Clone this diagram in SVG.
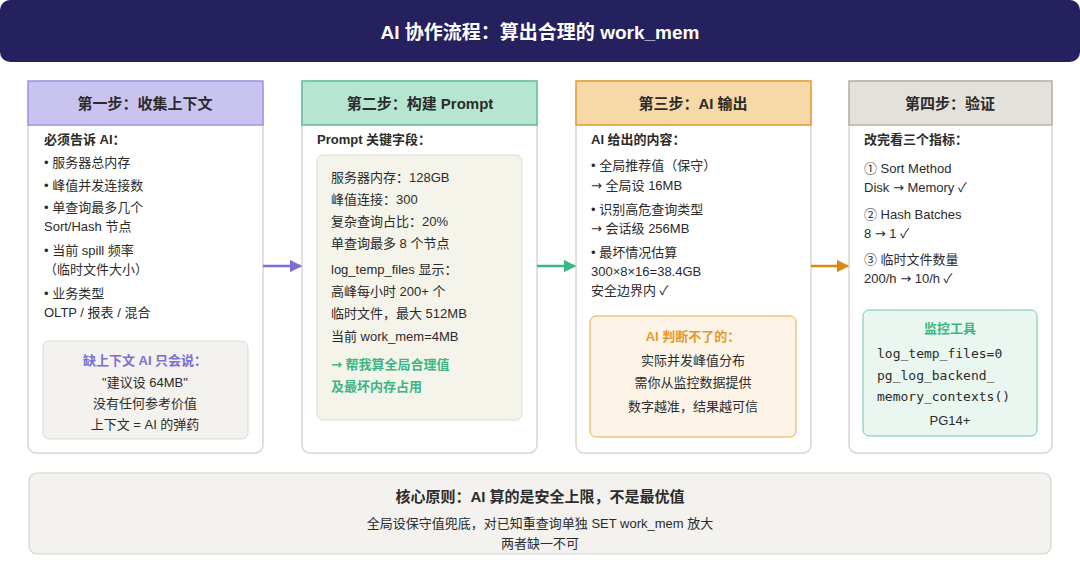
<svg xmlns="http://www.w3.org/2000/svg" width="1080" height="576" viewBox="0 0 1080 576">
<defs>
<style>
text{font-family:"Liberation Sans","Noto Sans CJK SC",sans-serif;fill:#2b2b2b;font-size:13px}
.b{font-weight:bold}
.t{font-size:15px;font-weight:bold;text-anchor:middle}
.c{text-anchor:middle}
.m{font-family:"DejaVu Sans Mono","Liberation Mono",monospace;font-size:13px}
.ar{font-family:"DejaVu Sans",sans-serif}
.card{fill:#fff;stroke:#d8d6d0;stroke-width:1.5}
</style>
<marker id="ap" viewBox="0 0 10 10" refX="9" refY="5" markerWidth="5" markerHeight="5" orient="auto"><path d="M0,0L10,5L0,10z" fill="#7b6fd6"/></marker>
<marker id="ag" viewBox="0 0 10 10" refX="9" refY="5" markerWidth="5" markerHeight="5" orient="auto"><path d="M0,0L10,5L0,10z" fill="#3db585"/></marker>
<marker id="ao" viewBox="0 0 10 10" refX="9" refY="5" markerWidth="5" markerHeight="5" orient="auto"><path d="M0,0L10,5L0,10z" fill="#d98a12"/></marker>
</defs>
<rect width="1080" height="576" fill="#fff"/>
<g id="header">
<rect x="0" y="0" width="1080" height="62" rx="10" fill="#25205e"/>
<text x="540" y="39" class="c b" style="fill:#fff;font-size:19px">AI 协作流程：算出合理的 work_mem</text>
</g>
<g id="step1">
<rect class="card" x="28" y="81" width="235" height="372" rx="8"/>
<rect x="28" y="81" width="235" height="44" fill="#c9c3f0" stroke="#9f94e6" stroke-width="1.5"/>
<text x="145" y="109" class="t">第一步：收集上下文</text>
<text x="44" y="144" class="b">必须告诉 AI：</text>
<text x="44" y="167">• 服务器总内存</text>
<text x="44" y="190">• 峰值并发连接数</text>
<text x="44" y="212">• 单查询最多几个</text>
<text x="44" y="231">Sort/Hash 节点</text>
<text x="44" y="255">• 当前 spill 频率</text>
<text x="44" y="274">（临时文件大小）</text>
<text x="44" y="298">• 业务类型</text>
<text x="44" y="317">OLTP / 报表 / 混合</text>
<rect x="43" y="341" width="205" height="98" rx="6" fill="#f3f2ee" stroke="#dcdad4"/>
<text x="145" y="365" class="c b" style="fill:#7b6fd6">缺上下文 AI 只会说：</text>
<text x="145" y="387" class="c">"建议设 64MB"</text>
<text x="145" y="408" class="c">没有任何参考价值</text>
<text x="145" y="429" class="c">上下文 = AI 的弹药</text>
</g>
<g id="step2">
<rect class="card" x="302" y="81" width="235" height="372" rx="8"/>
<rect x="302" y="81" width="235" height="44" fill="#b6e6d2" stroke="#5cbf95" stroke-width="1.5"/>
<text x="420" y="109" class="t">第二步：构建 Prompt</text>
<text x="317" y="144" class="b">Prompt 关键字段：</text>
<rect x="317" y="155" width="205" height="265" rx="6" fill="#f5f4ea" stroke="#dcdad4"/>
<text x="331" y="182">服务器内存：128GB</text>
<text x="331" y="204">峰值连接：300</text>
<text x="331" y="226">复杂查询占比：20%</text>
<text x="331" y="248">单查询最多 8 个节点</text>
<text x="331" y="274">log_temp_files 显示：</text>
<text x="331" y="296">高峰每小时 200+ 个</text>
<text x="331" y="318">临时文件，最大 512MB</text>
<text x="331" y="341">当前 work_mem=4MB</text>
<text x="331" y="369" class="b" style="fill:#3db585"><tspan class="ar">→</tspan> 帮我算全局合理值</text>
<text x="331" y="391" class="b" style="fill:#3db585">及最坏内存占用</text>
</g>
<g id="step3">
<rect class="card" x="576" y="81" width="235" height="372" rx="8"/>
<rect x="576" y="81" width="235" height="44" fill="#f6d9a6" stroke="#e39a2c" stroke-width="1.5"/>
<text x="693" y="109" class="t">第三步：AI 输出</text>
<text x="591" y="144" class="b">AI 给出的内容：</text>
<text x="591" y="170">• 全局推荐值（保守）</text>
<text x="591" y="190"><tspan class="ar">→</tspan> 全局设 16MB</text>
<text x="591" y="214">• 识别高危查询类型</text>
<text x="591" y="233"><tspan class="ar">→</tspan> 会话级 256MB</text>
<text x="591" y="257">• 最坏情况估算</text>
<text x="591" y="276">300×8×16=38.4GB</text>
<text x="591" y="295">安全边界内 ✓</text>
<rect x="590" y="316" width="206" height="121" rx="6" fill="#fdf3e7" stroke="#e9a94f"/>
<text x="693" y="341" class="c b" style="fill:#e39a2c">AI 判断不了的：</text>
<text x="693" y="365" class="c">实际并发峰值分布</text>
<text x="693" y="387" class="c">需你从监控数据提供</text>
<text x="693" y="411" class="c">数字越准，结果越可信</text>
</g>
<g id="step4">
<rect class="card" x="849" y="81" width="203" height="372" rx="8"/>
<rect x="849" y="81" width="203" height="44" fill="#e4e1db" stroke="#b5b0a6" stroke-width="1.5"/>
<text x="950" y="109" class="t">第四步：验证</text>
<text x="864" y="144" class="b">改完看三个指标：</text>
<text x="864" y="173">① Sort Method</text>
<text x="864" y="192">Disk <tspan class="ar">→</tspan> Memory ✓</text>
<text x="864" y="219">② Hash Batches</text>
<text x="864" y="238">8 <tspan class="ar">→</tspan> 1 ✓</text>
<text x="864" y="264">③ 临时文件数量</text>
<text x="864" y="283">200/h <tspan class="ar">→</tspan> 10/h ✓</text>
<rect x="863" y="310" width="174" height="126" rx="6" fill="#e9f7f0" stroke="#72c9a3"/>
<text x="950" y="333" class="c b" style="fill:#3db585">监控工具</text>
<text x="877" y="358" class="m">log_temp_files=0</text>
<text x="877" y="380" class="m">pg_log_backend_</text>
<text x="877" y="401" class="m">memory_contexts()</text>
<text x="950" y="425" class="c">PG14+</text>
</g>
<g id="connectors">
<line x1="263" y1="266" x2="301" y2="266" stroke="#7b6fd6" stroke-width="2.5" marker-end="url(#ap)"/>
<line x1="537" y1="266" x2="575" y2="266" stroke="#3db585" stroke-width="2.5" marker-end="url(#ag)"/>
<line x1="811" y1="266" x2="848" y2="266" stroke="#d98a12" stroke-width="2.5" marker-end="url(#ao)"/>
</g>
<g id="summary">
<rect x="29" y="473" width="1022" height="81" rx="8" fill="#f3f2ee" stroke="#d4d2cc" stroke-width="1.2"/>
<text x="540" y="502" class="t">核心原则：AI 算的是安全上限，不是最优值</text>
<text x="540" y="528" class="c">全局设保守值兜底，对已知重查询单独 SET work_mem 放大</text>
<text x="540" y="548" class="c">两者缺一不可</text>
</g>
</svg>
